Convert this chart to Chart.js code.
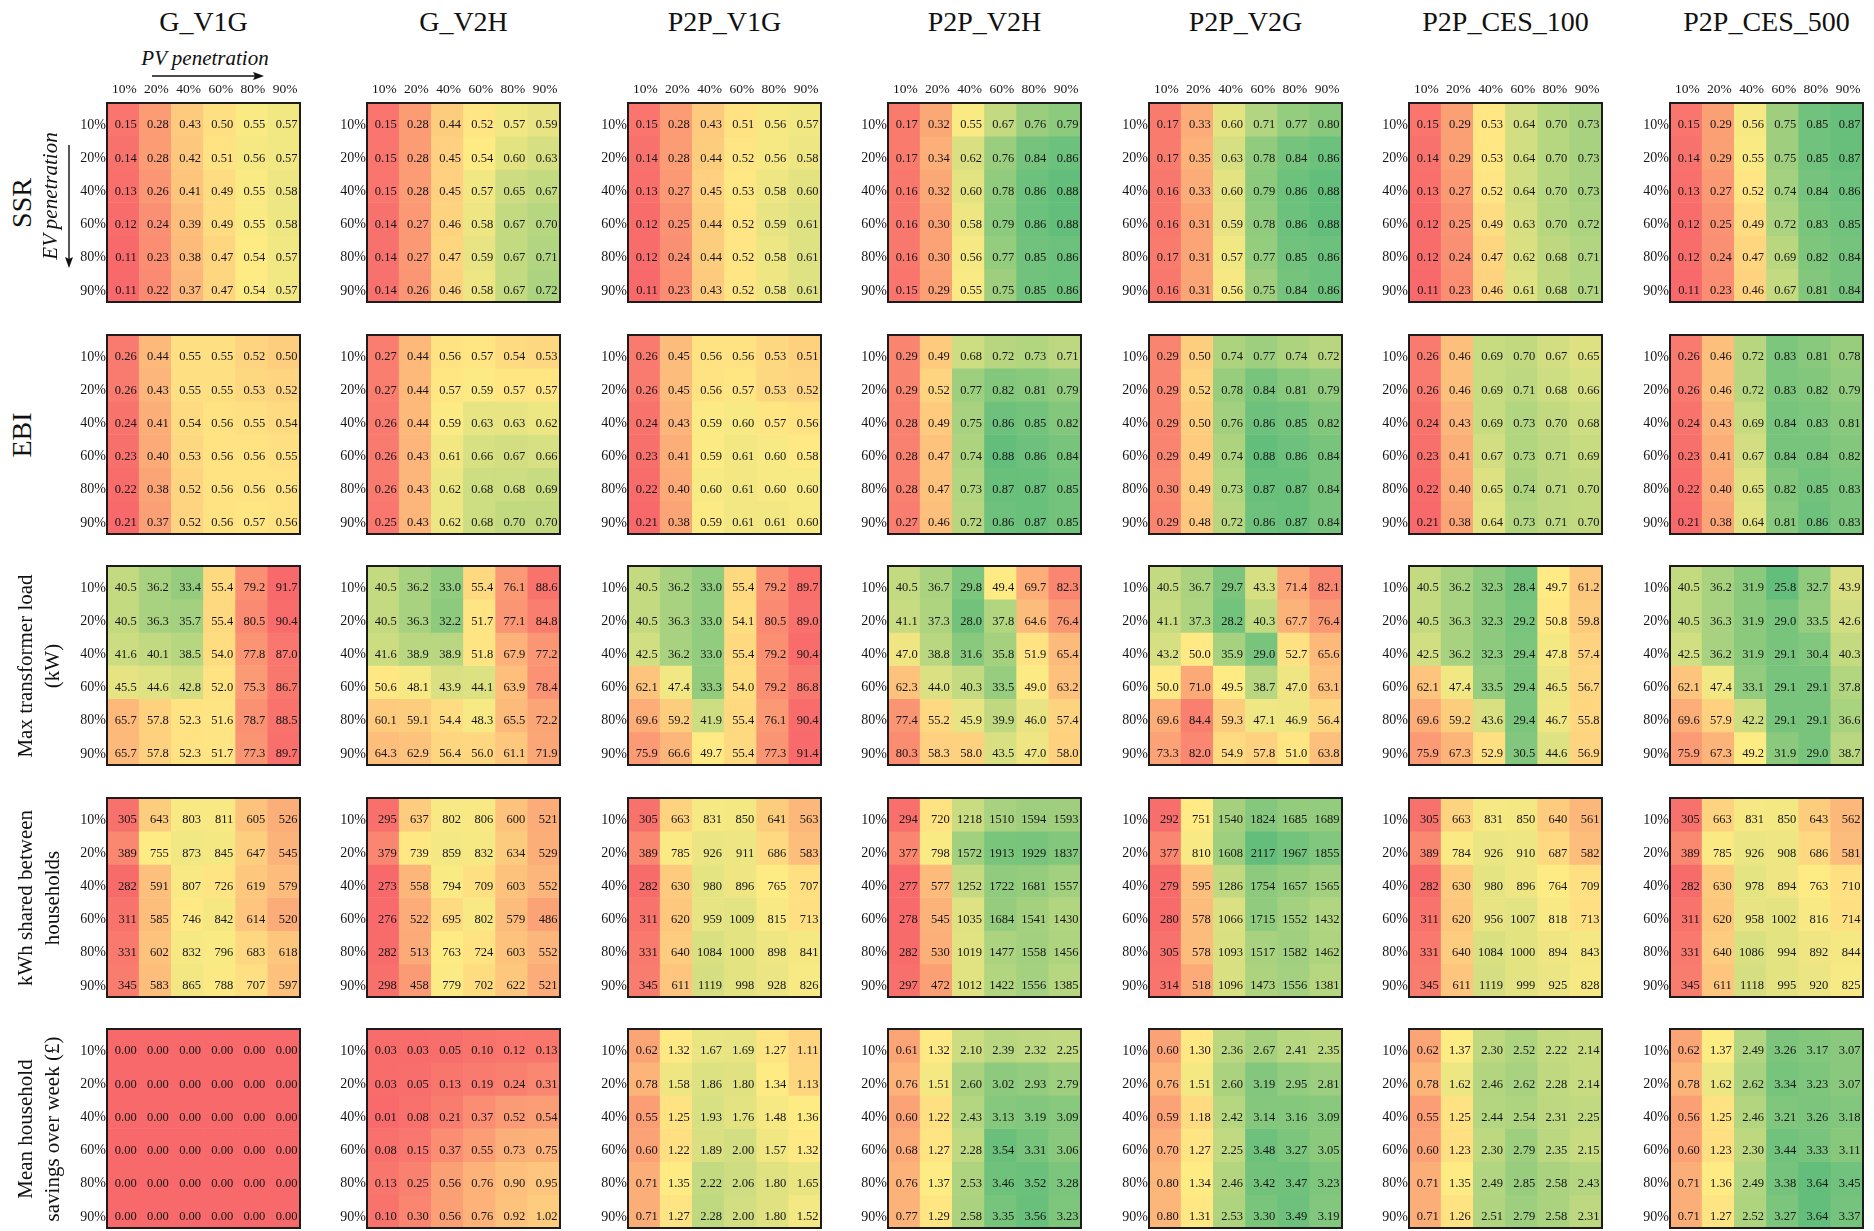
<!DOCTYPE html>
<html>
<head>
<meta charset="utf-8">
<title>EV / PV penetration scenario heatmaps</title>
<script src="https://cdn.jsdelivr.net/npm/chart.js@4.4.1/dist/chart.umd.min.js"></script>
<style>
  html, body { margin: 0; padding: 0; background: #ffffff; }
  #page { position: relative; width: 1874px; height: 1231px; overflow: hidden;
          font-family: "Liberation Serif", "Times New Roman", serif; color: #111; }
  #page canvas { position: absolute; }
  .colTitle { position: absolute; font-size: 28px; line-height: 28px; text-align: center; white-space: nowrap; }
  .rot { position: absolute; width: 0; height: 0; }
  .rot > div { position: absolute; left: 0; top: 0; white-space: pre; text-align: center;
               transform: translate(-50%, -50%) rotate(-90deg); }
  .axisNote { position: absolute; font-style: italic; font-size: 21px; line-height: 21px; white-space: nowrap; }
  svg { position: absolute; left: 0; top: 0; }
</style>
</head>
<body>
<div id="page"></div>
<script>
// ---- categories ----
const PV_LEVELS = ['10%', '20%', '40%', '60%', '80%', '90%'];   // columns of every panel
const EV_LEVELS = ['10%', '20%', '40%', '60%', '80%', '90%'];   // rows of every panel
const SCENARIOS = ['G_V1G', 'G_V2H', 'P2P_V1G', 'P2P_V2H', 'P2P_V2G', 'P2P_CES_100', 'P2P_CES_500'];
const METRIC_LABELS = [
  ['SSR'],
  ['EBI'],
  ['Max transformer load', '(kW)'],
  ['kWh shared between', 'households'],
  ['Mean household', 'savings over week (£)']
];

// ---- values: one 6x6 matrix per scenario (rows = EV level, columns = PV level) ----
const SSR = [
  [[0.15,0.28,0.43,0.50,0.55,0.57],[0.14,0.28,0.42,0.51,0.56,0.57],[0.13,0.26,0.41,0.49,0.55,0.58],
   [0.12,0.24,0.39,0.49,0.55,0.58],[0.11,0.23,0.38,0.47,0.54,0.57],[0.11,0.22,0.37,0.47,0.54,0.57]],
  [[0.15,0.28,0.44,0.52,0.57,0.59],[0.15,0.28,0.45,0.54,0.60,0.63],[0.15,0.28,0.45,0.57,0.65,0.67],
   [0.14,0.27,0.46,0.58,0.67,0.70],[0.14,0.27,0.47,0.59,0.67,0.71],[0.14,0.26,0.46,0.58,0.67,0.72]],
  [[0.15,0.28,0.43,0.51,0.56,0.57],[0.14,0.28,0.44,0.52,0.56,0.58],[0.13,0.27,0.45,0.53,0.58,0.60],
   [0.12,0.25,0.44,0.52,0.59,0.61],[0.12,0.24,0.44,0.52,0.58,0.61],[0.11,0.23,0.43,0.52,0.58,0.61]],
  [[0.17,0.32,0.55,0.67,0.76,0.79],[0.17,0.34,0.62,0.76,0.84,0.86],[0.16,0.32,0.60,0.78,0.86,0.88],
   [0.16,0.30,0.58,0.79,0.86,0.88],[0.16,0.30,0.56,0.77,0.85,0.86],[0.15,0.29,0.55,0.75,0.85,0.86]],
  [[0.17,0.33,0.60,0.71,0.77,0.80],[0.17,0.35,0.63,0.78,0.84,0.86],[0.16,0.33,0.60,0.79,0.86,0.88],
   [0.16,0.31,0.59,0.78,0.86,0.88],[0.17,0.31,0.57,0.77,0.85,0.86],[0.16,0.31,0.56,0.75,0.84,0.86]],
  [[0.15,0.29,0.53,0.64,0.70,0.73],[0.14,0.29,0.53,0.64,0.70,0.73],[0.13,0.27,0.52,0.64,0.70,0.73],
   [0.12,0.25,0.49,0.63,0.70,0.72],[0.12,0.24,0.47,0.62,0.68,0.71],[0.11,0.23,0.46,0.61,0.68,0.71]],
  [[0.15,0.29,0.56,0.75,0.85,0.87],[0.14,0.29,0.55,0.75,0.85,0.87],[0.13,0.27,0.52,0.74,0.84,0.86],
   [0.12,0.25,0.49,0.72,0.83,0.85],[0.12,0.24,0.47,0.69,0.82,0.84],[0.11,0.23,0.46,0.67,0.81,0.84]]
];

const EBI = [
  [[0.26,0.44,0.55,0.55,0.52,0.50],[0.26,0.43,0.55,0.55,0.53,0.52],[0.24,0.41,0.54,0.56,0.55,0.54],
   [0.23,0.40,0.53,0.56,0.56,0.55],[0.22,0.38,0.52,0.56,0.56,0.56],[0.21,0.37,0.52,0.56,0.57,0.56]],
  [[0.27,0.44,0.56,0.57,0.54,0.53],[0.27,0.44,0.57,0.59,0.57,0.57],[0.26,0.44,0.59,0.63,0.63,0.62],
   [0.26,0.43,0.61,0.66,0.67,0.66],[0.26,0.43,0.62,0.68,0.68,0.69],[0.25,0.43,0.62,0.68,0.70,0.70]],
  [[0.26,0.45,0.56,0.56,0.53,0.51],[0.26,0.45,0.56,0.57,0.53,0.52],[0.24,0.43,0.59,0.60,0.57,0.56],
   [0.23,0.41,0.59,0.61,0.60,0.58],[0.22,0.40,0.60,0.61,0.60,0.60],[0.21,0.38,0.59,0.61,0.61,0.60]],
  [[0.29,0.49,0.68,0.72,0.73,0.71],[0.29,0.52,0.77,0.82,0.81,0.79],[0.28,0.49,0.75,0.86,0.85,0.82],
   [0.28,0.47,0.74,0.88,0.86,0.84],[0.28,0.47,0.73,0.87,0.87,0.85],[0.27,0.46,0.72,0.86,0.87,0.85]],
  [[0.29,0.50,0.74,0.77,0.74,0.72],[0.29,0.52,0.78,0.84,0.81,0.79],[0.29,0.50,0.76,0.86,0.85,0.82],
   [0.29,0.49,0.74,0.88,0.86,0.84],[0.30,0.49,0.73,0.87,0.87,0.84],[0.29,0.48,0.72,0.86,0.87,0.84]],
  [[0.26,0.46,0.69,0.70,0.67,0.65],[0.26,0.46,0.69,0.71,0.68,0.66],[0.24,0.43,0.69,0.73,0.70,0.68],
   [0.23,0.41,0.67,0.73,0.71,0.69],[0.22,0.40,0.65,0.74,0.71,0.70],[0.21,0.38,0.64,0.73,0.71,0.70]],
  [[0.26,0.46,0.72,0.83,0.81,0.78],[0.26,0.46,0.72,0.83,0.82,0.79],[0.24,0.43,0.69,0.84,0.83,0.81],
   [0.23,0.41,0.67,0.84,0.84,0.82],[0.22,0.40,0.65,0.82,0.85,0.83],[0.21,0.38,0.64,0.81,0.86,0.83]]
];

const MAX_LOAD_KW = [
  [[40.5,36.2,33.4,55.4,79.2,91.7],[40.5,36.3,35.7,55.4,80.5,90.4],[41.6,40.1,38.5,54.0,77.8,87.0],
   [45.5,44.6,42.8,52.0,75.3,86.7],[65.7,57.8,52.3,51.6,78.7,88.5],[65.7,57.8,52.3,51.7,77.3,89.7]],
  [[40.5,36.2,33.0,55.4,76.1,88.6],[40.5,36.3,32.2,51.7,77.1,84.8],[41.6,38.9,38.9,51.8,67.9,77.2],
   [50.6,48.1,43.9,44.1,63.9,78.4],[60.1,59.1,54.4,48.3,65.5,72.2],[64.3,62.9,56.4,56.0,61.1,71.9]],
  [[40.5,36.2,33.0,55.4,79.2,89.7],[40.5,36.3,33.0,54.1,80.5,89.0],[42.5,36.2,33.0,55.4,79.2,90.4],
   [62.1,47.4,33.3,54.0,79.2,86.8],[69.6,59.2,41.9,55.4,76.1,90.4],[75.9,66.6,49.7,55.4,77.3,91.4]],
  [[40.5,36.7,29.8,49.4,69.7,82.3],[41.1,37.3,28.0,37.8,64.6,76.4],[47.0,38.8,31.6,35.8,51.9,65.4],
   [62.3,44.0,40.3,33.5,49.0,63.2],[77.4,55.2,45.9,39.9,46.0,57.4],[80.3,58.3,58.0,43.5,47.0,58.0]],
  [[40.5,36.7,29.7,43.3,71.4,82.1],[41.1,37.3,28.2,40.3,67.7,76.4],[43.2,50.0,35.9,29.0,52.7,65.6],
   [50.0,71.0,49.5,38.7,47.0,63.1],[69.6,84.4,59.3,47.1,46.9,56.4],[73.3,82.0,54.9,57.8,51.0,63.8]],
  [[40.5,36.2,32.3,28.4,49.7,61.2],[40.5,36.3,32.3,29.2,50.8,59.8],[42.5,36.2,32.3,29.4,47.8,57.4],
   [62.1,47.4,33.5,29.4,46.5,56.7],[69.6,59.2,43.6,29.4,46.7,55.8],[75.9,67.3,52.9,30.5,44.6,56.9]],
  [[40.5,36.2,31.9,25.8,32.7,43.9],[40.5,36.3,31.9,29.0,33.5,42.6],[42.5,36.2,31.9,29.1,30.4,40.3],
   [62.1,47.4,33.1,29.1,29.1,37.8],[69.6,57.9,42.2,29.1,29.1,36.6],[75.9,67.3,49.2,31.9,29.0,38.7]]
];

const KWH_SHARED = [
  [[305,643,803,811,605,526],[389,755,873,845,647,545],[282,591,807,726,619,579],
   [311,585,746,842,614,520],[331,602,832,796,683,618],[345,583,865,788,707,597]],
  [[295,637,802,806,600,521],[379,739,859,832,634,529],[273,558,794,709,603,552],
   [276,522,695,802,579,486],[282,513,763,724,603,552],[298,458,779,702,622,521]],
  [[305,663,831,850,641,563],[389,785,926,911,686,583],[282,630,980,896,765,707],
   [311,620,959,1009,815,713],[331,640,1084,1000,898,841],[345,611,1119,998,928,826]],
  [[294,720,1218,1510,1594,1593],[377,798,1572,1913,1929,1837],[277,577,1252,1722,1681,1557],
   [278,545,1035,1684,1541,1430],[282,530,1019,1477,1558,1456],[297,472,1012,1422,1556,1385]],
  [[292,751,1540,1824,1685,1689],[377,810,1608,2117,1967,1855],[279,595,1286,1754,1657,1565],
   [280,578,1066,1715,1552,1432],[305,578,1093,1517,1582,1462],[314,518,1096,1473,1556,1381]],
  [[305,663,831,850,640,561],[389,784,926,910,687,582],[282,630,980,896,764,709],
   [311,620,956,1007,818,713],[331,640,1084,1000,894,843],[345,611,1119,999,925,828]],
  [[305,663,831,850,643,562],[389,785,926,908,686,581],[282,630,978,894,763,710],
   [311,620,958,1002,816,714],[331,640,1086,994,892,844],[345,611,1118,995,920,825]]
];

const SAVINGS_GBP = [
  [[0,0,0,0,0,0],[0,0,0,0,0,0],[0,0,0,0,0,0],[0,0,0,0,0,0],[0,0,0,0,0,0],[0,0,0,0,0,0]],
  [[0.03,0.03,0.05,0.10,0.12,0.13],[0.03,0.05,0.13,0.19,0.24,0.31],[0.01,0.08,0.21,0.37,0.52,0.54],
   [0.08,0.15,0.37,0.55,0.73,0.75],[0.13,0.25,0.56,0.76,0.90,0.95],[0.10,0.30,0.56,0.76,0.92,1.02]],
  [[0.62,1.32,1.67,1.69,1.27,1.11],[0.78,1.58,1.86,1.80,1.34,1.13],[0.55,1.25,1.93,1.76,1.48,1.36],
   [0.60,1.22,1.89,2.00,1.57,1.32],[0.71,1.35,2.22,2.06,1.80,1.65],[0.71,1.27,2.28,2.00,1.80,1.52]],
  [[0.61,1.32,2.10,2.39,2.32,2.25],[0.76,1.51,2.60,3.02,2.93,2.79],[0.60,1.22,2.43,3.13,3.19,3.09],
   [0.68,1.27,2.28,3.54,3.31,3.06],[0.76,1.37,2.53,3.46,3.52,3.28],[0.77,1.29,2.58,3.35,3.56,3.23]],
  [[0.60,1.30,2.36,2.67,2.41,2.35],[0.76,1.51,2.60,3.19,2.95,2.81],[0.59,1.18,2.42,3.14,3.16,3.09],
   [0.70,1.27,2.25,3.48,3.27,3.05],[0.80,1.34,2.46,3.42,3.47,3.23],[0.80,1.31,2.53,3.30,3.49,3.19]],
  [[0.62,1.37,2.30,2.52,2.22,2.14],[0.78,1.62,2.46,2.62,2.28,2.14],[0.55,1.25,2.44,2.54,2.31,2.25],
   [0.60,1.23,2.30,2.79,2.35,2.15],[0.71,1.35,2.49,2.85,2.58,2.43],[0.71,1.26,2.51,2.79,2.58,2.31]],
  [[0.62,1.37,2.49,3.26,3.17,3.07],[0.78,1.62,2.62,3.34,3.23,3.07],[0.56,1.25,2.46,3.21,3.26,3.18],
   [0.60,1.23,2.30,3.44,3.33,3.11],[0.71,1.36,2.49,3.38,3.64,3.45],[0.71,1.27,2.52,3.27,3.64,3.37]]
];

// metric rows, top to bottom; "lowIsGood" flips the colour scale (green = low load)
const METRICS = [
  { data: SSR,         digits: 2, lowIsGood: false },
  { data: EBI,         digits: 2, lowIsGood: false },
  { data: MAX_LOAD_KW, digits: 1, lowIsGood: true  },
  { data: KWH_SHARED,  digits: 0, lowIsGood: false },
  { data: SAVINGS_GBP, digits: 2, lowIsGood: false }
];

// ---- layout of the panel grid ----
const PANEL_X0 = 106.7, PANEL_DX = 260.55, PANEL_W = 193;
const PANEL_Y0 = 103,   PANEL_DY = 231.5,  PANEL_H = 199;
const Y_AXIS_W = 46, X_AXIS_H = 30, EDGE = 12;
const FONT = '"Liberation Serif", "Times New Roman", serif';
const INK = '#161616';

// three-colour scale: red (min) -> yellow (50th percentile) -> green (max)
const RED = [248, 105, 107], YELLOW = [255, 235, 132], GREEN = [99, 190, 123];

function median(values) {
  const s = values.slice().sort((a, b) => a - b);
  const pos = (s.length - 1) * 0.5, lo = Math.floor(pos), hi = Math.ceil(pos);
  return s[lo] + (s[hi] - s[lo]) * (pos - lo);
}
function mix(a, b, t) {
  t = Math.max(0, Math.min(1, t));
  return 'rgb(' + a.map((v, i) => Math.round(v + (b[i] - v) * t)).join(',') + ')';
}
function makeColourScale(metric) {
  const all = metric.data.flat(2);
  const lo = Math.min(...all), hi = Math.max(...all), mid = median(all);
  const start = metric.lowIsGood ? GREEN : RED;
  const end = metric.lowIsGood ? RED : GREEN;
  return v => v <= mid ? mix(start, YELLOW, mid > lo ? (v - lo) / (mid - lo) : 0)
                       : mix(YELLOW, end, (v - mid) / (hi - mid));
}

// draws the value of every cell, right-aligned and sitting low in the cell
const cellValues = {
  id: 'cellValues',
  afterDatasetsDraw(chart, args, opts) {
    const ctx = chart.ctx;
    ctx.save();
    ctx.font = '12.5px ' + FONT;
    ctx.fillStyle = INK;
    ctx.textAlign = 'right';
    ctx.textBaseline = 'middle';
    chart.data.datasets.forEach((ds, di) => {
      chart.getDatasetMeta(di).data.forEach((bar, j) => {
        const p = bar.getProps(['x', 'y', 'base', 'width'], true);
        const right = p.x + p.width / 2 - 2.5;
        const cy = (p.y + p.base) / 2 + 5.5;
        ctx.fillText(ds.values[j].toFixed(opts.digits), right, cy);
      });
    });
    ctx.restore();
  }
};

// dark frame round the plot area
const panelFrame = {
  id: 'panelFrame',
  afterDraw(chart) {
    const a = chart.chartArea, ctx = chart.ctx;
    ctx.save();
    ctx.strokeStyle = '#1c1c1c';
    ctx.lineWidth = 2;
    ctx.strokeRect(a.left, a.top, a.right - a.left, a.bottom - a.top);
    ctx.restore();
  }
};

const page = document.getElementById('page');

function panelChart(r, c) {
  const metric = METRICS[r];
  const matrix = metric.data[c];
  const colourOf = makeColourScale(metric);
  const left = Math.round(PANEL_X0 + PANEL_DX * c);
  const top = Math.round(PANEL_Y0 + PANEL_DY * r);
  const showPv = r === 0;
  const topRoom = showPv ? X_AXIS_H : EDGE;

  const canvas = document.createElement('canvas');
  canvas.width = Y_AXIS_W + PANEL_W + EDGE;
  canvas.height = topRoom + PANEL_H + EDGE;
  canvas.style.left = (left - Y_AXIS_W) + 'px';
  canvas.style.top = (top - topRoom) + 'px';
  page.appendChild(canvas);

  const datasets = EV_LEVELS.map((ev, i) => ({
    label: ev,
    values: matrix[i],
    data: matrix[i].map(() => [i, i + 1]),
    backgroundColor: matrix[i].map(colourOf),
    borderWidth: 0,
    barPercentage: 1,
    categoryPercentage: 1,
    grouped: false
  }));

  const cellW = PANEL_W / PV_LEVELS.length;

  new Chart(canvas, {
    type: 'bar',
    data: { labels: PV_LEVELS, datasets },
    options: {
      responsive: false,
      animation: false,
      devicePixelRatio: 1,
      events: [],
      layout: { padding: { left: 0, right: EDGE, top: showPv ? 0 : EDGE, bottom: EDGE } },
      plugins: {
        legend: { display: false },
        tooltip: { enabled: false },
        cellValues: { digits: metric.digits }
      },
      scales: {
        x: {
          type: 'category',
          position: 'top',
          offset: true,
          display: showPv,
          grid: { display: false, drawTicks: false },
          border: { display: false },
          ticks: {
            color: INK, font: { family: FONT, size: 13.5 },
            align: 'end', labelOffset: cellW / 2 - 2.5, padding: 5,
            maxRotation: 0, autoSkip: false
          },
          afterFit(s) { if (showPv) s.height = X_AXIS_H; }
        },
        y: {
          type: 'linear',
          min: 0, max: EV_LEVELS.length,
          reverse: true,
          grid: { display: false, drawTicks: false },
          border: { display: false },
          afterBuildTicks(s) { s.ticks = EV_LEVELS.map((_, i) => ({ value: i + 0.5 })); },
          ticks: {
            color: INK, font: { family: FONT, size: 14 },
            padding: 1, labelOffset: 5.5,
            callback: (v, i) => EV_LEVELS[i]
          },
          afterFit(s) { s.width = Y_AXIS_W; }
        }
      }
    },
    plugins: [cellValues, panelFrame]
  });
}

for (let r = 0; r < METRICS.length; r++) {
  for (let c = 0; c < SCENARIOS.length; c++) panelChart(r, c);
}

// scenario titles above the columns
SCENARIOS.forEach((name, c) => {
  const d = document.createElement('div');
  d.className = 'colTitle';
  d.textContent = name;
  const cx = Math.round(PANEL_X0 + PANEL_DX * c) + PANEL_W / 2;
  d.style.left = (cx - 130) + 'px';
  d.style.width = '260px';
  d.style.top = '8px';
  page.appendChild(d);
});

// metric names down the left-hand side
function rotatedText(text, cx, cy, size, lineHeight, italic) {
  const w = document.createElement('div');
  w.className = 'rot';
  w.style.left = cx + 'px';
  w.style.top = cy + 'px';
  const d = document.createElement('div');
  d.textContent = text;
  d.style.fontSize = size + 'px';
  d.style.lineHeight = lineHeight + 'px';
  if (italic) d.style.fontStyle = 'italic';
  w.appendChild(d);
  page.appendChild(w);
}
METRIC_LABELS.forEach((lines, r) => {
  const cy = Math.round(PANEL_Y0 + PANEL_DY * r) + PANEL_H / 2;
  if (lines.length === 1) rotatedText(lines[0], 22, cy, 28, 28, false);
  else rotatedText(lines.join('\n'), 39, cy, 21, 27, false);
});

// axis direction notes on the first panel
const pv = document.createElement('div');
pv.className = 'axisNote';
pv.textContent = 'PV penetration';
pv.style.left = '0px';
pv.style.width = '410px';
pv.style.textAlign = 'center';
pv.style.top = '48px';
page.appendChild(pv);
rotatedText('EV penetration', 50, 196, 21, 21, true);

// arrows
const svgNS = 'http://www.w3.org/2000/svg';
const svg = document.createElementNS(svgNS, 'svg');
svg.setAttribute('width', 1874);
svg.setAttribute('height', 1231);
svg.innerHTML =
  '<line x1="152" y1="76" x2="258" y2="76" stroke="#111" stroke-width="1.4"/>' +
  '<polygon points="264,76 253,72 255,76 253,80" fill="#111"/>' +
  '<line x1="69" y1="145" x2="69" y2="262" stroke="#111" stroke-width="1.4"/>' +
  '<polygon points="69,268 65,257 69,259 73,257" fill="#111"/>';
page.appendChild(svg);
</script>
</body>
</html>
